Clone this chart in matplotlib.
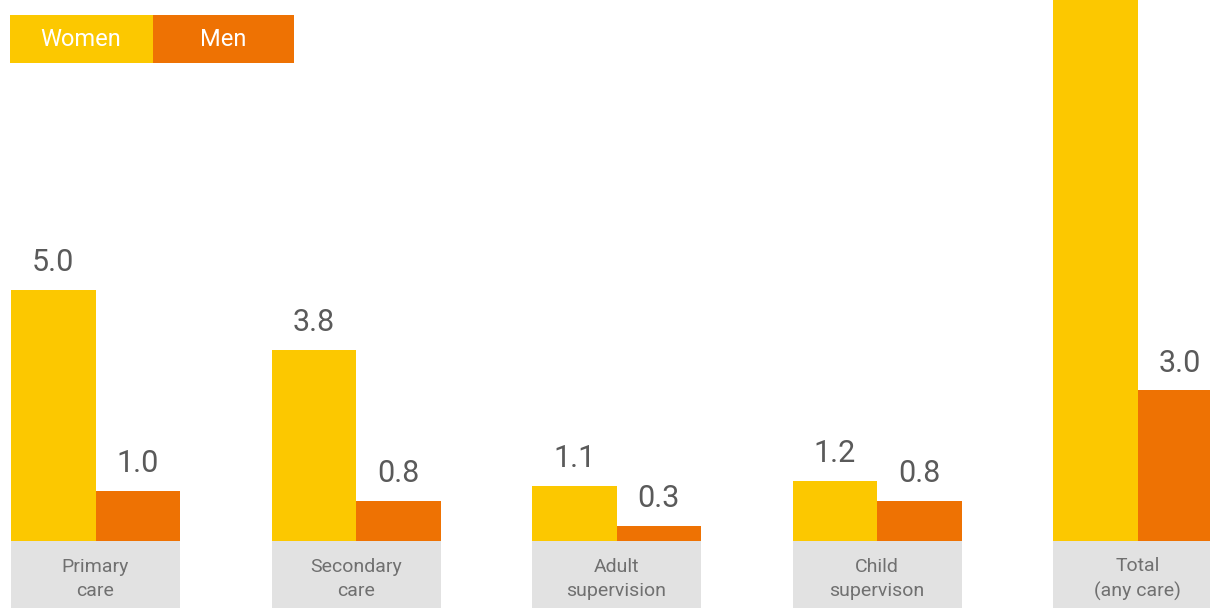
import matplotlib.pyplot as plt
from matplotlib.patches import Rectangle
from matplotlib.transforms import blended_transform_factory
import numpy as np

plt.rcParams['font.family'] = ['Roboto', 'DejaVu Sans']

categories = ['Primary\ncare', 'Secondary\ncare', 'Adult\nsupervision', 'Child\nsupervison', 'Total\n(any care)']
women = [5.0, 3.8, 1.1, 1.2, 11.2]
men = [1.0, 0.8, 0.3, 0.8, 3.0]

c_women = '#FCC800'
c_men = '#EE7203'

fig = plt.figure(figsize=(12.1, 6.08), dpi=100)
# axes: baseline at 67 px from bottom, top at figure top
ax = fig.add_axes([0, 67 / 608, 1, 541 / 608])

x = np.arange(len(categories))
w = 84.5 / 260.5
ax.bar(x - w / 2, women, w, color=c_women)
ax.bar(x + w / 2, men, w, color=c_men)

ax.set_xlim(-95.5 / 260.5, (1210 - 95.5) / 260.5)
ax.set_ylim(0, 541 / 50.3)
ax.axis('off')

for xi, v in zip(x - w / 2, women):
    ax.annotate(f'{v:.1f}', (xi, v), xytext=(0, 9), textcoords='offset points',
                ha='center', va='bottom', fontsize=22, color='#5a5a5a')
for xi, v in zip(x + w / 2, men):
    ax.annotate(f'{v:.1f}', (xi, v), xytext=(0, 9), textcoords='offset points',
                ha='center', va='bottom', fontsize=22, color='#5a5a5a')

# grey category boxes under the bars
tr = blended_transform_factory(ax.transData, ax.transAxes)
box_h = 67 / 541
for xi, lab in zip(x, categories):
    ax.add_patch(Rectangle((xi - w, -box_h), 2 * w, box_h, transform=tr,
                           facecolor='#e2e2e2', edgecolor='none', clip_on=False))
    ax.text(xi, -38 / 541, lab, transform=tr, ha='center', va='center',
            fontsize=14, color='#707070', linespacing=1.45)

# legend boxes
W, H = 1210, 608
fig.patches.append(Rectangle((10 / W, 1 - 63 / H), 143 / W, 48 / H, transform=fig.transFigure,
                             facecolor=c_women, edgecolor='none'))
fig.patches.append(Rectangle((153 / W, 1 - 63 / H), 141 / W, 48 / H, transform=fig.transFigure,
                             facecolor=c_men, edgecolor='none'))
fig.text(81 / W, 1 - 40 / H, 'Women', ha='center', va='center', fontsize=17, color='white')
fig.text(223 / W, 1 - 40 / H, 'Men', ha='center', va='center', fontsize=17, color='white')

fig.savefig('out.png', dpi=100)
